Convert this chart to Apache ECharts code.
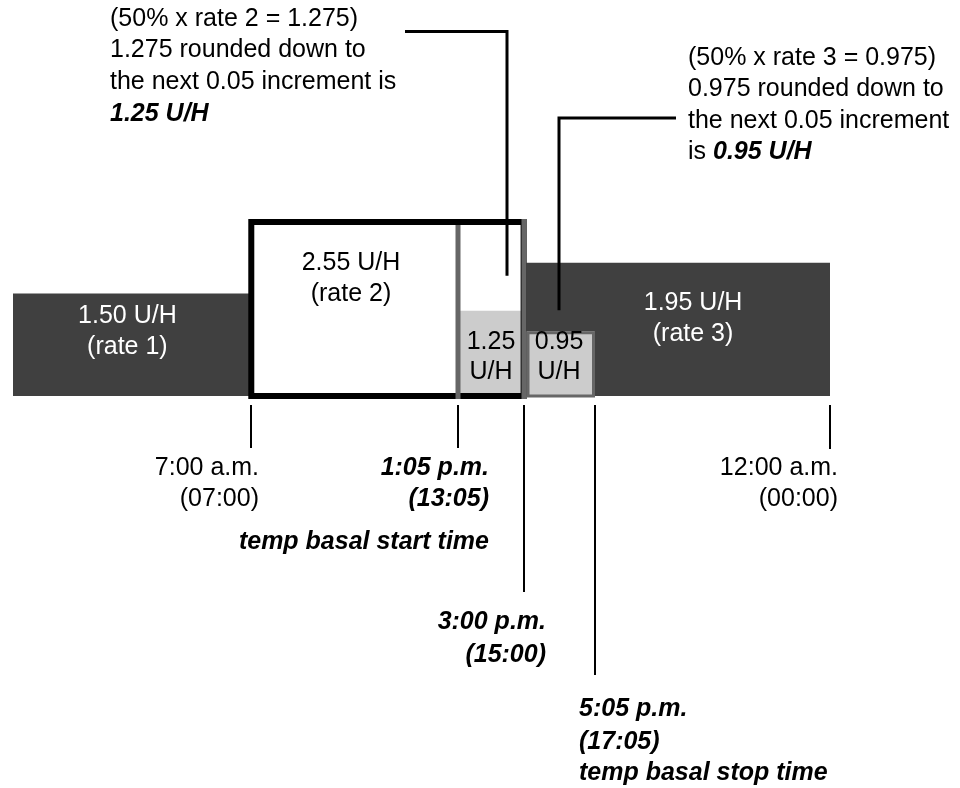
<!DOCTYPE html>
<html>
<head>
<meta charset="utf-8">
<script src="https://cdn.jsdelivr.net/npm/echarts@6/dist/echarts.min.js"></script>
<style>html,body{margin:0;padding:0;background:#fff}#chart{width:960px;height:788px}</style>
</head>
<body>
<div id="chart"></div>
<script>
// ---------------- data ----------------
const rateNames  = ['rate 1', 'rate 2', 'rate 3'];
const rateStart  = [0, 7, 15];            // hours
const rateEnd    = [7, 15, 24];
const rateValues = [1.50, 2.55, 1.95];    // U/H

const tempStart  = [13 + 5 / 60, 15];     // temp basal pieces (hours)
const tempEnd    = [15, 17 + 5 / 60];
const tempValues = [1.25, 0.95];          // U/H

const tickTimes  = [7, 13 + 5 / 60, 15, 17 + 5 / 60, 24];
const tickLabels = [
  ['7:00 a.m.', '(07:00)'],
  ['1:05 p.m.', '(13:05)', 'temp basal start time'],
  ['3:00 p.m.', '(15:00)'],
  ['5:05 p.m.', '(17:05)', 'temp basal stop time'],
  ['12:00 a.m.', '(00:00)']
];

const noteLeft  = ['(50% x rate 2 = 1.275)', '1.275 rounded down to', 'the next 0.05 increment is', '{b|1.25 U/H}'];
const noteRight = ['(50% x rate 3 = 0.975)', '0.975 rounded down to', 'the next 0.05 increment', 'is {b|0.95 U/H}'];

// ---------------- layout / style ----------------
const FF = '"Liberation Sans", Arial, Helvetica, sans-serif';
const FS = 25;
const SX = 1;
const DARK = '#404040', LIGHT = '#cccccc', MID = '#666666';
const RATE_FILL = [DARK, '#ffffff', DARK];
const RATE_TEXT = ['#ffffff', '#000000', '#ffffff'];
const RATE_OUTLINE = [false, true, false];
const RATE_LABEL_FRAC = [0.48, 0.366, 0.553];
const RATE_LABEL_RISE = [80, 133, 93];
const TEMP_STYLE = ['sides', 'box'];
const CALLOUT_FRAC = [0.75, 0.5];
const CALLOUT_GAP = [35, 21];
const CALLOUT_TEXT_X = [405, 676];
const CALLOUT_ELBOW_Y = [31.5, 118];
const TICK_LAYOUT = [
  {align: 'right', dx: 8,   len: 52,  ys: [468, 499], bold: false},
  {align: 'right', dx: 31,  len: 52,  ys: [468, 499, 542], bold: true},
  {align: 'right', dx: 22,  len: 196, ys: [622, 655], bold: true},
  {align: 'left',  dx: -16, len: 279, ys: [709, 742, 773], bold: true},
  {align: 'right', dx: 8,   len: 53,  ys: [468, 499], bold: false}
];

const RICH = {b: {fontSize: FS, fontFamily: FF, fontWeight: 'bold', fontStyle: 'italic', fill: '#000'}};

function textEl(x, y, text, o) {
  o = o || {};
  const style = {
    text: text, fill: o.fill || '#000', fontSize: FS, fontFamily: FF,
    fontWeight: o.bold ? 'bold' : 'normal', fontStyle: o.bold ? 'italic' : 'normal',
    align: o.align || 'center', verticalAlign: 'middle'
  };
  if (o.rich) style.rich = o.rich;
  return {type: 'text', x: x, y: y, scaleX: SX, scaleY: 1, style: style, silent: true};
}

function rectOf(api) {
  const tl = api.coord([api.value(0), api.value(2)]);
  const br = api.coord([api.value(1), 0]);
  return {x: tl[0], y: tl[1], width: br[0] - tl[0], height: br[1] - tl[1]};
}

const rateData = rateStart.map((s, i) => [s, rateEnd[i], rateValues[i]]);
const tempData = tempStart.map((s, i) => [s, tempEnd[i], tempValues[i]]);
const tickData = tickTimes.map(t => [t, 0]);

const graphicEls = [];
noteLeft.forEach((t, i) => graphicEls.push(textEl(110, 19 + i * 31.6, t, {align: 'left', rich: RICH})));
noteRight.forEach((t, i) => graphicEls.push(textEl(688, 58 + i * 31.4, t, {align: 'left', rich: RICH})));

const option = {
  backgroundColor: '#ffffff',
  animation: false,
  grid: {left: 13, top: 0, width: 817, height: 396, containLabel: false},
  xAxis: {type: 'value', min: 0, max: 24, show: false},
  yAxis: {type: 'value', min: 0, max: 5.8, show: false},
  graphic: {elements: graphicEls},
  series: [
    { // basal rate fills
      type: 'custom', silent: true, data: rateData, encode: {x: [0, 1], y: 2}, z: 1,
      renderItem(params, api) {
        return {type: 'rect', shape: rectOf(api), style: {fill: RATE_FILL[params.dataIndex]}};
      }
    },
    { // temp basal fills
      type: 'custom', silent: true, data: tempData, encode: {x: [0, 1], y: 2}, z: 2,
      renderItem(params, api) {
        return {type: 'rect', shape: rectOf(api), style: {fill: LIGHT}};
      }
    },
    { // outlined rate
      type: 'custom', silent: true, data: rateData, encode: {x: [0, 1], y: 2}, z: 3,
      renderItem(params, api) {
        if (!RATE_OUTLINE[params.dataIndex]) return {type: 'group', children: []};
        const r = rectOf(api);
        return {type: 'rect', shape: r, style: {fill: null, stroke: '#000', lineWidth: 6, lineJoin: 'miter'}};
      }
    },
    { // temp basal outlines
      type: 'custom', silent: true, data: tempData, encode: {x: [0, 1], y: 2}, z: 4,
      renderItem(params, api) {
        const i = params.dataIndex;
        const s = api.value(0), e = api.value(1), v = api.value(2);
        const x0 = Math.round(api.coord([s, 0])[0]), x1 = Math.round(api.coord([e, 0])[0]);
        const yb = api.coord([s, 0])[1], yt = api.coord([s, v])[1];
        if (TEMP_STYLE[i] === 'sides') {
          const r = rateStart.findIndex((rs, k) => s >= rs && s < rateEnd[k]);
          const ytop = api.coord([s, rateValues[r]])[1];
          return {type: 'group', children: [
            {type: 'line', shape: {x1: x0, y1: yb + 3, x2: x0, y2: ytop + 3}, style: {stroke: MID, lineWidth: 5}},
            {type: 'line', shape: {x1: x1, y1: yb + 3, x2: x1, y2: ytop - 3}, style: {stroke: MID, lineWidth: 5}}
          ]};
        }
        return {type: 'rect', shape: {x: x0 + 4, y: yt + 1.5, width: x1 - x0 - 5.5, height: yb - yt - 1.5},
                style: {fill: null, stroke: MID, lineWidth: 3}};
      }
    },
    { // rate labels
      type: 'custom', silent: true, data: rateData, encode: {x: [0, 1], y: 2}, z: 5,
      renderItem(params, api) {
        const i = params.dataIndex;
        const s = api.value(0), e = api.value(1), v = api.value(2);
        const p = api.coord([s + RATE_LABEL_FRAC[i] * (e - s), 0]);
        const y1 = p[1] - RATE_LABEL_RISE[i];
        return {type: 'group', children: [
          textEl(p[0], y1, v.toFixed(2) + ' U/H', {fill: RATE_TEXT[i]}),
          textEl(p[0], y1 + 31.5, '(' + rateNames[i] + ')', {fill: RATE_TEXT[i]})
        ]};
      }
    },
    { // temp labels
      type: 'custom', silent: true, data: tempData, encode: {x: [0, 1], y: 2}, z: 5,
      renderItem(params, api) {
        const s = api.value(0), e = api.value(1), v = api.value(2);
        const p = api.coord([(s + e) / 2, 0]);
        return {type: 'group', children: [
          textEl(p[0], p[1] - 54, v.toFixed(2)),
          textEl(p[0], p[1] - 24, 'U/H')
        ]};
      }
    },
    { // time ticks and labels
      type: 'custom', silent: true, data: tickData, encode: {x: 0, y: 1}, z: 5,
      renderItem(params, api) {
        const i = params.dataIndex;
        const L = TICK_LAYOUT[i];
        const p = api.coord([api.value(0), 0]);
        const x = Math.round(p[0]);
        const children = [
          {type: 'line', shape: {x1: x, y1: p[1] + 9, x2: x, y2: p[1] + L.len}, style: {stroke: '#000', lineWidth: 2}}
        ];
        tickLabels[i].forEach((t, k) => {
          children.push(textEl(x + L.dx, L.ys[k], t, {align: L.align, bold: L.bold}));
        });
        return {type: 'group', children: children};
      }
    },
    { // callout leader lines
      type: 'custom', silent: true, data: tempData, encode: {x: [0, 1], y: 2}, z: 6,
      renderItem(params, api) {
        const i = params.dataIndex;
        const s = api.value(0), e = api.value(1), v = api.value(2);
        const p = api.coord([s + CALLOUT_FRAC[i] * (e - s), v]);
        const ax = Math.round(p[0]);
        return {type: 'polyline', shape: {points: [
          [CALLOUT_TEXT_X[i], CALLOUT_ELBOW_Y[i]], [ax, CALLOUT_ELBOW_Y[i]], [ax, p[1] - CALLOUT_GAP[i]]
        ]}, style: {fill: null, stroke: '#000', lineWidth: 3, lineJoin: 'miter'}};
      }
    }
  ]
};

const chart = echarts.init(document.getElementById('chart'), null, {renderer: 'canvas'});
chart.setOption(option);
</script>
</body>
</html>
